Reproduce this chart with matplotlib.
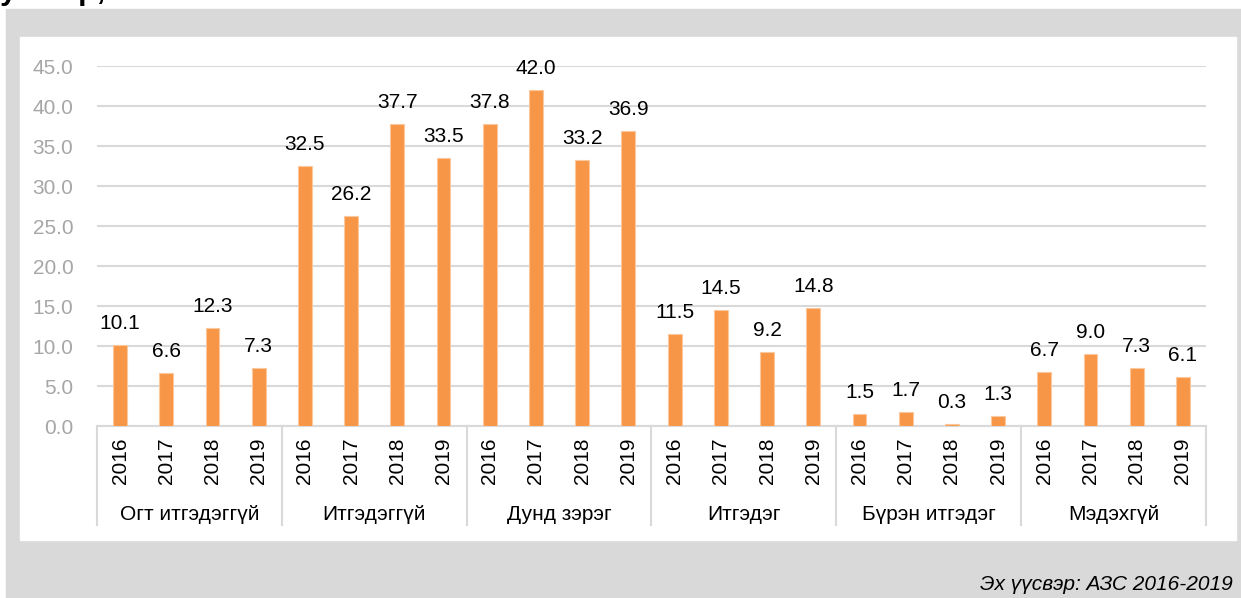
import matplotlib.pyplot as plt
import matplotlib.patches as mpatches
import matplotlib.transforms as mtransforms

plt.rcParams["font.family"] = ["Liberation Sans", "DejaVu Sans"]

# data
groups = ["Огт итгэдэггүй", "Итгэдэггүй", "Дунд зэрэг", "Итгэдэг", "Бүрэн итгэдэг", "Мэдэхгүй"]
years = ["2016", "2017", "2018", "2019"]
vals_ogt = [10.1, 6.6, 12.3, 7.3]
vals_itgedeggui = [32.5, 26.2, 37.7, 33.5]
vals_dund = [37.8, 42.0, 33.2, 36.9]
vals_itgedeg = [11.5, 14.5, 9.2, 14.8]
vals_buren = [1.5, 1.7, 0.3, 1.3]
vals_medehgui = [6.7, 9.0, 7.3, 6.1]
yticks = [0, 5, 10, 15, 20, 25, 30, 35, 40, 45]

all_vals = [vals_ogt, vals_itgedeggui, vals_dund, vals_itgedeg, vals_buren, vals_medehgui]
values = [v for g in all_vals for v in g]
n_years = len(years)
xs = list(range(len(values)))

W, H = 1241, 598
FS = 15
fig = plt.figure(figsize=(W / 100, H / 100), dpi=100)
fig.patch.set_facecolor("white")

def px_rect(x0, y0, x1, y1, color):
    # pixel box, y measured from top
    fig.patches.append(mpatches.Rectangle((x0 / W, 1 - y1 / H), (x1 - x0) / W, (y1 - y0) / H,
                                          transform=fig.transFigure, color=color, zorder=-5))

px_rect(6, 9, W, H, "#d9d9d9")
px_rect(20, 37, 1236, 540, "white")

# cut-off title fragment at the very top (only descenders show in the reference)
fig.text(0, 1 + 1 / H, "утгаар,", fontsize=22, fontweight="bold", color="black",
         ha="left", va="baseline")

ax = fig.add_axes([97 / W, 1 - 426 / H, (1206 - 97) / W, 360 / H])
ax.set_facecolor("none")
ax.set_zorder(2)

orange = "#F79646"
ax.bar(xs, values, width=0.3, color=orange, edgecolor="#fbc79d", linewidth=0.8, zorder=3)

for x, v in zip(xs, values):
    ax.annotate(f"{v:.1f}", (x, v), xytext=(0, 11.5), textcoords="offset points",
                ha="center", va="baseline", fontsize=FS, color="black", zorder=4)

ax.set_xlim(-0.5, len(values) - 0.5)
ax.set_ylim(0, 45)
ax.set_yticks(yticks)
ax.set_yticklabels([f"{t:.1f}" for t in yticks], fontsize=FS, color="#a6a6a6")
ax.tick_params(axis="y", length=0, pad=17)
ax.set_xticks([])
ax.grid(axis="y", color="#d9d9d9", linewidth=1.5, zorder=0)
for s in ["top", "right", "left"]:
    ax.spines[s].set_visible(False)
ax.spines["bottom"].set_color("#d9d9d9")
ax.spines["bottom"].set_linewidth(1.5)

trans = mtransforms.blended_transform_factory(ax.transData, ax.transAxes)
# group separators under the axis
for g in range(len(groups) + 1):
    xb = g * n_years - 0.5
    ax.plot([xb, xb], [0, -99 / 360], color="#d9d9d9", lw=1.5, transform=trans, clip_on=False)

# year labels and group labels
for i, x in enumerate(xs):
    ax.text(x, -35 / 360, years[i % n_years], rotation=90, ha="center", va="center",
            fontsize=FS, color="black", transform=trans)
for g, name in enumerate(groups):
    xc = g * n_years + (n_years - 1) / 2
    ax.text(xc, -88 / 360, name, ha="center", va="center", fontsize=FS,
            color="black", transform=trans)

fig.text(1233 / W, 1 - 585 / H, "Эх үүсвэр: АЗС 2016-2019", ha="right", va="center",
         fontsize=FS, style="italic", color="black")

fig.savefig("out.png", dpi=100)
